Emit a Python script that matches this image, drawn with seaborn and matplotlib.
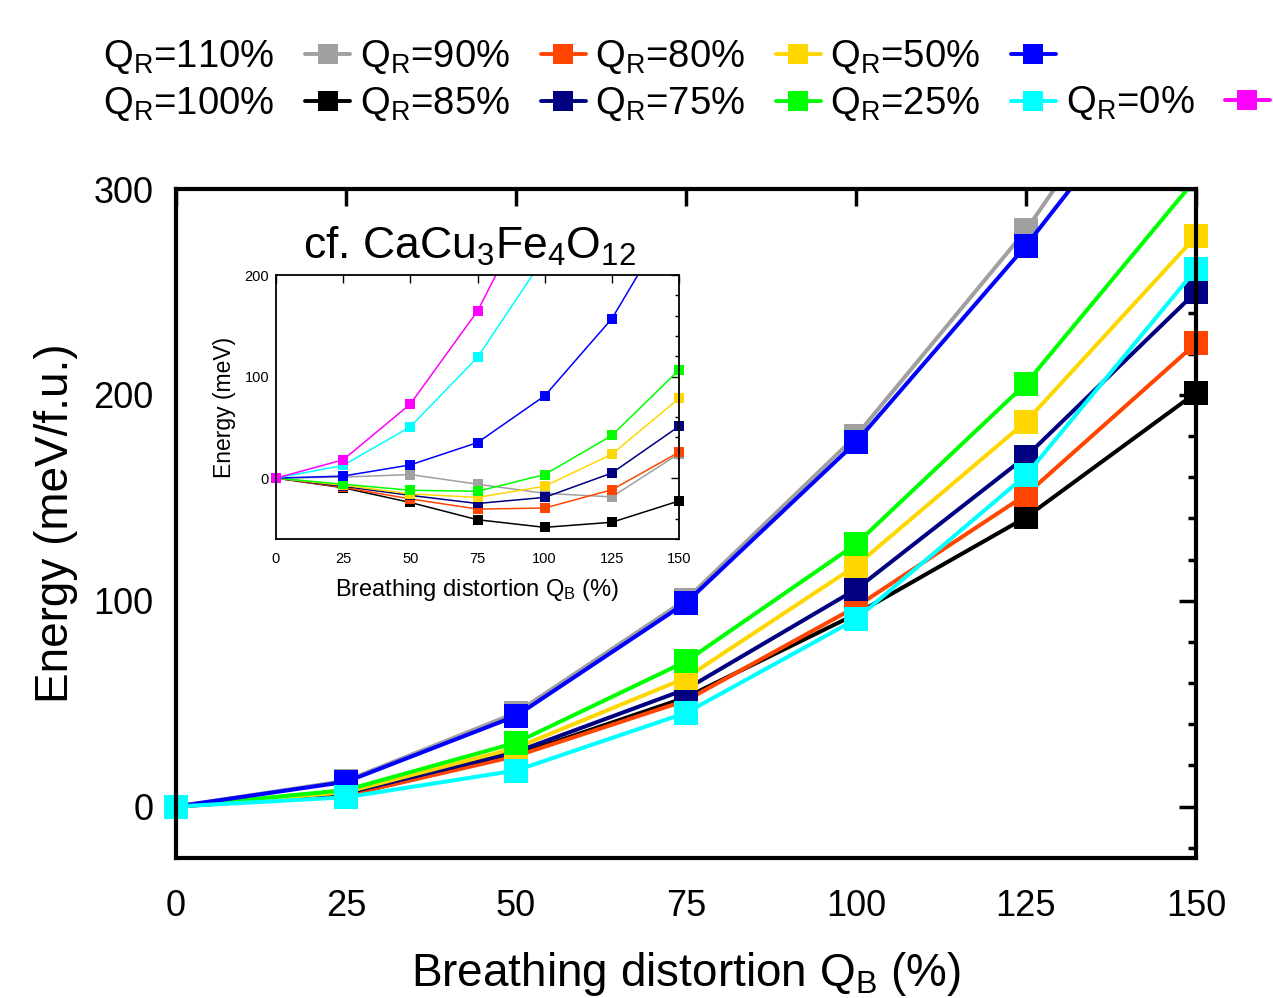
import numpy as np
import pandas as pd
import matplotlib
matplotlib.use('Agg')
import matplotlib.pyplot as plt
from matplotlib.lines import Line2D
from matplotlib.ticker import MultipleLocator
import seaborn as sns

# breathing distortion Q_B (%)
qb = [0, 25, 50, 75, 100, 125, 150]

labels = ['110%', '100%', '90%', '85%', '80%', '75%', '50%', '25%', '0%']
colors = ['#a0a0a0', '#000000', '#ff4500', '#000080', '#ffd700', '#00ff00', '#0000ff', '#00ffff', '#ff00ff']

# main panel, energy (meV/f.u.)
main_110 = [0, 12.5, 45.5, 100.5, 180, 280, 400]
main_100 = [0, 5.5, 25, 53, 93.5, 140.5, 201]
main_90 = [0, 5.5, 24.5, 51.5, 97, 151.5, 225]
main_85 = [0, 6.5, 26.5, 57, 105.5, 170, 250]
main_80 = [0, 7, 28.5, 62.5, 117, 187, 277]
main_75 = [0, 8, 31, 70.5, 127.5, 205.5, 305]
main_50 = [0, 12, 44, 99, 177, 272.5, 378]
main_25 = [0, 4.5, 17.5, 45.5, 91, 161, 261]
main_0 = None  # not drawn in the main panel

# inset, cf. CaCu3Fe4O12, energy (meV)
ins_110 = [0, 1, 3.5, -6, -15, -18.5, 24]
ins_100 = [0, -9.5, -24, -41, -48.5, -43.5, -22.5]
ins_90 = [0, -9, -20.5, -30.5, -29.5, -11.5, 25.5]
ins_85 = [0, -8, -17, -25, -19, 5, 51]
ins_80 = [0, -7, -15.5, -19, -8, 23.5, 78.5]
ins_75 = [0, -6, -12, -13, 3.5, 42, 106.5]
ins_50 = [0, 2, 13, 35, 81, 157, 268]
ins_25 = [0, 12.5, 50.5, 119, 218, 340, 480]
ins_0 = [0, 18, 73, 164.5, 294, 450, 630]

main_series = [main_110, main_100, main_90, main_85, main_80, main_75, main_50, main_25, main_0]
ins_series = [ins_110, ins_100, ins_90, ins_85, ins_80, ins_75, ins_50, ins_25, ins_0]

sns.set_style('white', {'axes.edgecolor': 'black', 'text.color': 'black',
                        'axes.labelcolor': 'black', 'xtick.color': 'black',
                        'ytick.color': 'black'})
plt.rcParams['font.family'] = ['Liberation Sans', 'DejaVu Sans']
plt.rcParams['mathtext.fontset'] = 'custom'
plt.rcParams['mathtext.rm'] = 'Liberation Sans'
plt.rcParams['mathtext.it'] = 'Liberation Sans:italic'


def draw(ax, series, ylim, lw, ms):
    for vals, c in zip(series, colors):
        if vals is None:
            continue
        df = pd.DataFrame({'qb': qb, 'e': vals})
        sns.lineplot(data=df, x='qb', y='e', color=c, lw=lw, ax=ax)
        inside = df[(df.e >= ylim[0]) & (df.e <= ylim[1])]
        ax.plot(inside.qb, inside.e, ls='none', marker='s', ms=ms, mew=0,
                color=c, clip_on=False)


fig = plt.figure(figsize=(12.73, 9.98), dpi=100)
ax = fig.add_axes([0.1383, 0.1403, 0.8012, 0.6703])
draw(ax, main_series, (-25, 300), 2.9, 17)
ax.set_xlim(0, 150)
ax.set_ylim(-25, 300)
ax.set_xticks(qb)
ax.yaxis.set_major_locator(MultipleLocator(100))
ax.yaxis.set_minor_locator(MultipleLocator(20))
ax.tick_params(which='both', direction='in', top=True, right=True, width=2.5)
ax.tick_params(which='major', length=12)
ax.tick_params(which='minor', length=6)
ax.tick_params(axis='x', labelsize=26, pad=22)
ax.tick_params(axis='y', labelsize=26, pad=16)
for s in ax.spines.values():
    s.set_linewidth(3)
ax.set_xlabel('Breathing distortion Q$_\\mathrm{B}$ (%)', fontsize=33, labelpad=19)
ax.set_ylabel('Energy (meV/f.u.)', fontsize=33, labelpad=11)

# inset
axi = fig.add_axes([0.2168, 0.4599, 0.3166, 0.2645])
draw(axi, ins_series, (-60, 200), 1.1, 6.5)
axi.set_xlim(0, 150)
axi.set_ylim(-60, 200)
axi.set_xticks(qb)
axi.yaxis.set_major_locator(MultipleLocator(100))
axi.yaxis.set_minor_locator(MultipleLocator(20))
axi.tick_params(which='both', direction='in', top=True, right=True, width=1.0, labelsize=10.5)
axi.tick_params(which='major', length=6)
axi.tick_params(which='minor', length=3)
axi.tick_params(axis='x', pad=9)
axi.tick_params(axis='y', pad=5)
for s in axi.spines.values():
    s.set_linewidth(1.3)
axi.set_xlabel('Breathing distortion Q$_\\mathrm{B}$ (%)', fontsize=17, labelpad=8)
axi.set_ylabel('Energy (meV)', fontsize=16.5, labelpad=6)
axi.set_title('cf. CaCu$_3$Fe$_4$O$_{12}$', fontsize=32, pad=12, x=0.48)

# legend: label first, then sample (gnuplot style), with an empty slot
handles = [Line2D([], [], color=c, lw=2.8, marker='s', ms=15, mew=0) for c in colors]
names = ['Q$_\\mathrm{R}$=' + l for l in labels]
blank = Line2D([], [], color='none')
handles = handles[:8] + [blank] + handles[8:]
names = names[:8] + [''] + names[8:]
fig.legend(handles, names, ncol=5, loc='upper left', bbox_to_anchor=(0.0813, 0.962),
           frameon=False, fontsize=27.5, markerfirst=False, handlelength=1.18,
           handletextpad=0.8, columnspacing=0.25, labelspacing=0.25, borderpad=0,
           borderaxespad=0)

fig.savefig('out.png', dpi=100)
